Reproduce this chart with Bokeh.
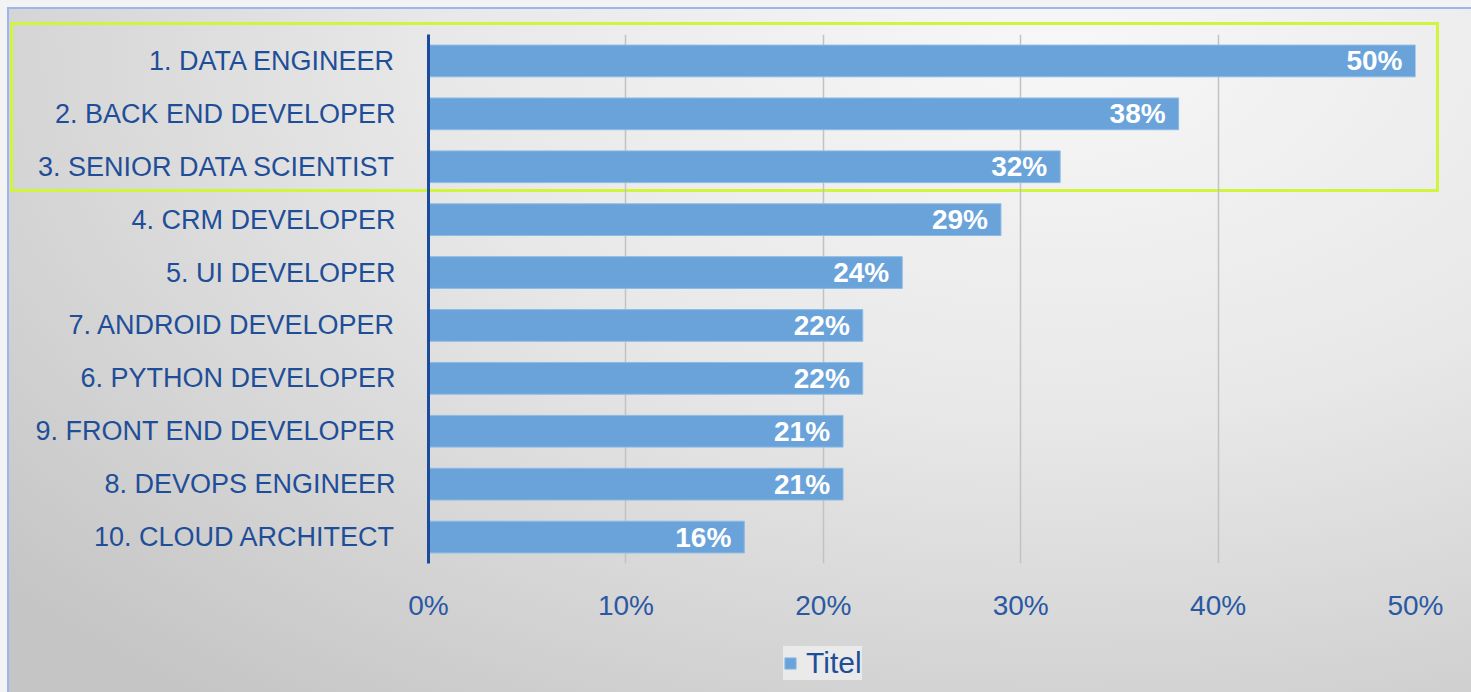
from bokeh.plotting import figure
from bokeh.layouts import column
from bokeh.models import ColumnDataSource, Range1d, FixedTicker, Legend, LegendItem, NumeralTickFormatter
from bokeh.core.properties import value
from bokeh.embed import file_html
from bokeh.resources import INLINE

categories = ["1. DATA ENGINEER", "2. BACK END DEVELOPER", "3. SENIOR DATA SCIENTIST",
              "4. CRM DEVELOPER", "5. UI DEVELOPER", "7. ANDROID DEVELOPER",
              "6. PYTHON DEVELOPER", "9. FRONT END DEVELOPER", "8. DEVOPS ENGINEER",
              "10. CLOUD ARCHITECT"]
values = [0.50, 0.38, 0.32, 0.29, 0.24, 0.22, 0.22, 0.21, 0.21, 0.16]
x_ticks = [0.0, 0.1, 0.2, 0.3, 0.4, 0.5]
series_name = "Titel"

BAR_FILL = "#6aa3da"
BAR_LINE = "#8dbbe6"

labels = [f"{round(v * 100)}%" for v in values]
src = ColumnDataSource(dict(cat=categories, val=values, lab=labels))

p = figure(y_range=list(reversed(categories)), x_range=Range1d(0, 0.5),
           frame_width=987, frame_height=529, width=1471, height=625,
           min_border_left=428, min_border_right=56, min_border_top=34, min_border_bottom=62,
           output_backend="svg", toolbar_location=None, tools="")
p.border_fill_color = None
p.background_fill_color = None
p.outline_line_color = None

bars = p.hbar(y="cat", right="val", left=0, height=0.6, source=src,
              fill_color=BAR_FILL, line_color=BAR_LINE, line_width=1)

p.text(x="val", y="cat", text="lab", source=src, x_offset=-13,
       text_align="right", text_baseline="middle", text_color="white",
       text_font=value("Liberation Sans"), text_font_style="bold", text_font_size="28px")

# axes
p.xaxis.ticker = FixedTicker(ticks=x_ticks)
p.xaxis.formatter = NumeralTickFormatter(format="0%")
p.xaxis.axis_line_color = None
p.xaxis.major_tick_line_color = None
p.xaxis.minor_tick_line_color = None
p.xaxis.major_label_text_font = "Liberation Sans"
p.xaxis.major_label_text_font_size = "28px"
p.xaxis.major_label_text_color = "#2a58a3"
p.xaxis.major_label_standoff = 20

p.yaxis.axis_line_color = "#1b4c9c"
p.yaxis.axis_line_width = 3
p.yaxis.major_tick_line_color = None
p.yaxis.minor_tick_line_color = None
p.yaxis.major_label_text_font = "Liberation Sans"
p.yaxis.major_label_text_font_size = "27px"
p.yaxis.major_label_text_color = "#1f4e99"
p.yaxis.major_label_standoff = 27

p.ygrid.grid_line_color = None
p.xgrid.ticker = FixedTicker(ticks=x_ticks[1:])
p.xgrid.grid_line_color = "#c2c2c2"
p.xgrid.grid_line_width = 1.5

# legend strip below the chart (frame aligned with the chart's frame)
p2 = figure(width=1471, height=67, x_range=Range1d(0, 1), y_range=Range1d(0, 1),
            frame_width=987, frame_height=67,
            min_border_left=428, min_border_right=56, min_border_top=0, min_border_bottom=0,
            x_axis_type=None, y_axis_type=None,
            output_backend="svg", toolbar_location=None, tools="")
p2.border_fill_color = None
p2.background_fill_color = None
p2.outline_line_color = None
p2.grid.visible = False
# same series as legend key; categorical y on a numeric range draws nothing here
key = p2.hbar(y="cat", right="val", left=0, height=0.6, source=src,
              fill_color=BAR_FILL, line_color=BAR_LINE, line_width=1)
legend = Legend(items=[LegendItem(label=series_name, renderers=[key])],
                location=(355, 12), orientation="horizontal",
                background_fill_color="#ececec", background_fill_alpha=0.9,
                border_line_color=None, padding=17, margin=0,
                glyph_width=14, glyph_height=14, label_standoff=9, label_height=28,
                label_text_font="Liberation Sans", label_text_font_size="30px",
                label_text_color="#1f4e99")
p2.add_layout(legend, "center")

G = "#d0f53c"
B = "#9ab5f0"
S = "#f3f3f3"
layers = [
    f"linear-gradient({G},{G}) 10px 22px / 1429px 3px no-repeat",
    f"linear-gradient({G},{G}) 10px 189px / 1429px 3px no-repeat",
    f"linear-gradient({G},{G}) 10px 22px / 3px 170px no-repeat",
    f"linear-gradient({G},{G}) 1436px 22px / 3px 170px no-repeat",
    f"linear-gradient({B},{B}) 7px 7px / 1464px 2px no-repeat",
    f"linear-gradient({B},{B}) 7px 7px / 2px 685px no-repeat",
    f"linear-gradient({S},{S}) 0px 0px / 100% 7px no-repeat",
    f"linear-gradient({S},{S}) 0px 0px / 7px 100% no-repeat",
    "radial-gradient(ellipse 95% 120% at 72% 6%, #f7f7f7 0%, #e8e8e8 45%, #d2d2d2 80%, #c5c5c5 100%)",
]
layout = column(p, p2, spacing=0)
layout.styles = {"background": ", ".join(layers)}

open("out.html", "w").write(file_html(layout, INLINE))
